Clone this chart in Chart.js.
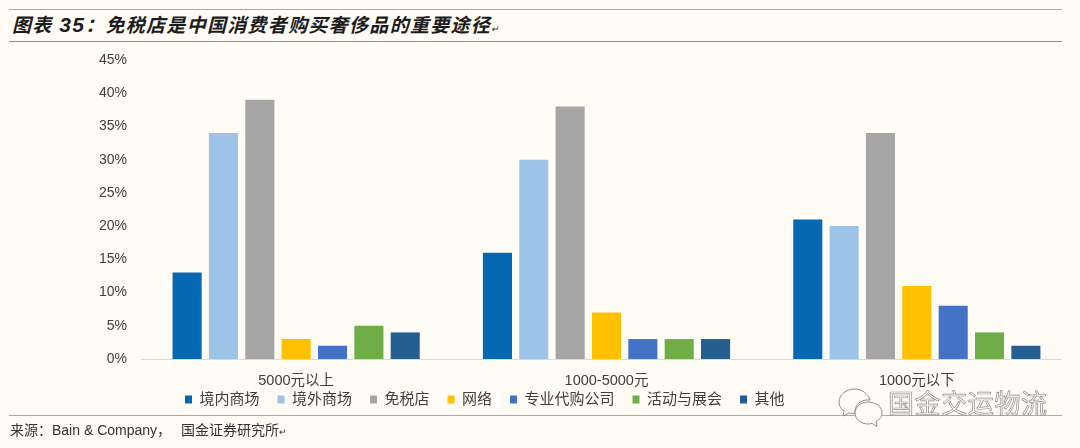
<!DOCTYPE html>
<html lang="zh-CN">
<head>
  <meta charset="UTF-8" />
  <title>图表35</title>
  <script src="https://cdn.jsdelivr.net/npm/chart.js"></script>
  <style>
    html, body { margin: 0; padding: 0; }
    body {
      width: 1080px; height: 448px; overflow: hidden; position: relative;
      background: #fffcf6;
      font-family: "Liberation Sans", "Noto Sans CJK SC", sans-serif;
    }
    canvas { position: absolute; left: 0; top: 0; }
    .rule { position: absolute; left: 9px; width: 1053px; height: 1px; }
    #titulo {
      position: absolute; left: 12px; top: 13px; font-size: 19px; line-height: 24px;
      font-weight: bold; font-style: italic; color: #1c1c1c; letter-spacing: 1.3px;
      white-space: nowrap;
    }
    #titulo b { font-size: 21px; }
    #fonte {
      position: absolute; left: 10px; top: 420px; font-size: 14px; line-height: 20px;
      color: #333; white-space: nowrap;
    }
    #marca {
      position: absolute; left: 888px; top: 386px; font-size: 26px; line-height: 32px;
      color: #fffcf6; letter-spacing: 0.6px; white-space: nowrap;
      -webkit-text-stroke: 0.7px #8d8d8d; font-family: "Noto Sans CJK SC", sans-serif;
    }
    #icone { position: absolute; left: 838px; top: 387px; }
  </style>
</head>
<body>
  <div class="rule" style="top:9px;background:#6fc0d6"></div>
  <div class="rule" style="top:41px;background:#5f9fae"></div>
  <div class="rule" style="top:415px;background:#6fc0d6"></div>
  <div id="titulo">图表 <b>35</b>：免税店是中国消费者购买奢侈品的重要途径<span style="font-size:9px;font-weight:normal">↵</span></div>
  <canvas id="grafico" width="1080" height="448"></canvas>
  <div id="fonte">来源：Bain &amp; Company，<span style="margin-left:10px">国金证券研究所</span><span style="font-size:9px">↵</span></div>
  <svg id="icone" width="46" height="42" viewBox="0 0 46 42" fill="#fffcf6" stroke="#8d8d8d" stroke-width="1">
    <path d="M17 2C8 2 1 8 1 15c0 4 2 7 5 9l-1 5 6-3c2 .5 4 .6 6 .4C16 18 23 12 32 13 30 7 24 2 17 2z"/>
    <path d="M30 15c-7 0-13 5-13 11s6 11 13 11c1.500 0 3-.2 4-.6l5 3-1-5c4-2 6-5 6-8.400 0-6-6-11-14-11z"/>
  </svg>
  <div id="marca">国金交运物流</div>

  <script>
    const categorias = ["5000元以上", "1000-5000元", "1000元以下"];
    const series = ["境内商场", "境外商场", "免税店", "网络", "专业代购公司", "活动与展会", "其他"];
    const cores = ["#0568b3", "#9dc3e6", "#a5a5a5", "#ffc000", "#4472c4", "#70ad47", "#255e91"];

    const shopping = [13, 16, 21];
    const overseas = [34, 30, 20];
    const dutyFree = [39, 38, 34];
    const online = [3, 7, 11];
    const agents = [2, 3, 8];
    const events = [5, 3, 4];
    const others = [4, 3, 2];
    const valores = [shopping, overseas, dutyFree, online, agents, events, others];

    const fonte = '"Liberation Sans", "Noto Sans CJK SC", sans-serif';

    // linha do zero e posicao da legenda
    const ajustes = {
      id: "ajustes",
      afterLayout(chart) {
        chart.legend.left += 167;
        chart.legend.right += 167;
        chart.legend.top -= 15;
        chart.legend.bottom -= 15;
      },
      afterDatasetsDraw(chart) {
        const y = chart.scales.y.getPixelForValue(0);
        const c = chart.ctx;
        c.save();
        c.strokeStyle = "#d9d9d9";
        c.lineWidth = 1;
        c.beginPath();
        c.moveTo(chart.chartArea.left, y + 0.5);
        c.lineTo(1062, y + 0.5);
        c.stroke();
        c.restore();
      }
    };

    new Chart(document.getElementById("grafico"), {
      type: "bar",
      data: {
        labels: categorias,
        datasets: series.map((nome, i) => ({
          label: nome,
          data: valores[i],
          backgroundColor: cores[i],
          categoryPercentage: 0.82,
          barPercentage: 0.8
        }))
      },
      options: {
        responsive: false,
        animation: false,
        layout: { padding: { top: 60, right: 8, bottom: 16 } },
        plugins: {
          tooltip: { enabled: false },
          legend: {
            position: "bottom",
            align: "start",
            labels: {
              boxWidth: 7, boxHeight: 8, padding: 18,
              color: "#404040",
              font: { family: fonte, size: 15 }
            }
          }
        },
        scales: {
          x: {
            grid: { display: false },
            border: { display: false },
            afterFit(s) { s.height = 30; },
            ticks: { color: "#404040", font: { family: fonte, size: 14.5 }, padding: 5 }
          },
          y: {
            min: 0, max: 45,
            grid: { display: false },
            border: { display: false },
            afterFit(s) { s.width = 141; },
            ticks: {
              stepSize: 5, padding: 6,
              color: "#404040",
              font: { family: fonte, size: 14 },
              callback: v => v + "%"
            }
          }
        }
      },
      plugins: [ajustes]
    });
  </script>
</body>
</html>
